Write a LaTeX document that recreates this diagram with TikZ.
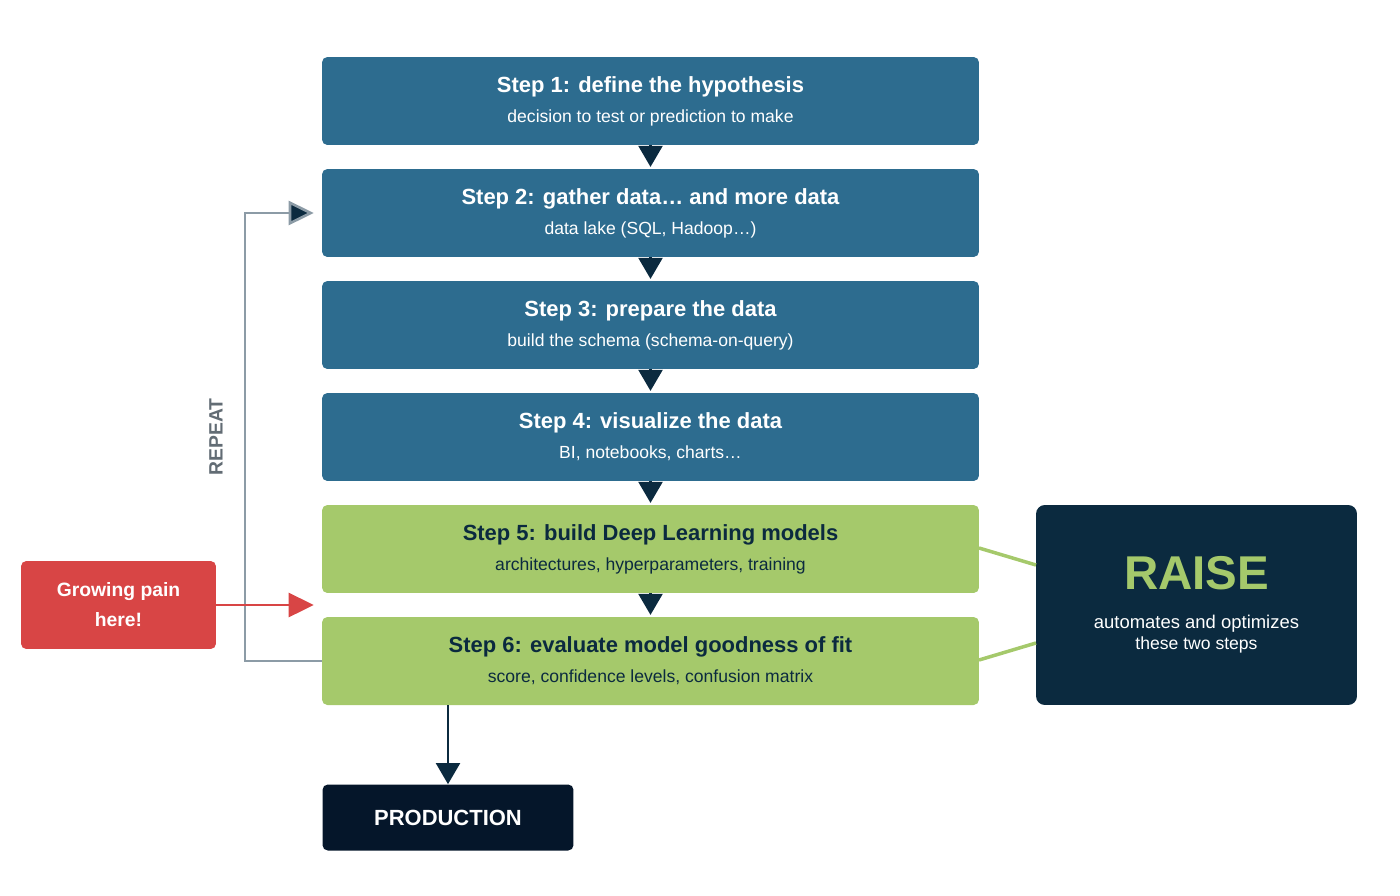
\documentclass[tikz,border=0pt]{standalone}
\usepackage{fontspec}
\setmainfont{Liberation Sans}
\usetikzlibrary{arrows.meta,positioning}
\definecolor{stepblue}{HTML}{2D6C8F}
\definecolor{stepgreen}{HTML}{A5C96B}
\definecolor{raisenavy}{HTML}{0B2A3F}
\definecolor{prodnavy}{HTML}{05162A}
\definecolor{painred}{HTML}{D84545}
\definecolor{repeatgray}{HTML}{8C9BA6}
\tikzset{
  stepbox/.style={rounded corners=3pt, minimum width=13.14cm, minimum height=1.76cm, align=center, inner sep=0pt},
  bluestep/.style={stepbox, fill=stepblue, text=white},
  greenstep/.style={stepbox, fill=stepgreen, text=raisenavy},
  flow/.style={draw=raisenavy, line width=1.2pt, -{Triangle[width=0.48cm,length=0.42cm]}},
}
\newcommand{\steptext}[2]{{\fontsize{12.5}{15}\selectfont\bfseries #1}\\[5pt]{\fontsize{10}{12}\selectfont #2}}
\begin{document}
\begin{tikzpicture}[x=0.02cm, y=-0.02cm]
  \useasboundingbox (0,0) rectangle (1400,896);
  \node[bluestep] (s1) at (650.5,101) {\steptext{Step 1: define the hypothesis}{decision to test or prediction to make}};
  \node[bluestep] (s2) at (650.5,213) {\steptext{Step 2: gather data\dots\ and more data}{data lake (SQL, Hadoop\dots)}};
  \node[bluestep] (s3) at (650.5,325) {\steptext{Step 3: prepare the data}{build the schema (schema-on-query)}};
  \node[bluestep] (s4) at (650.5,437) {\steptext{Step 4: visualize the data}{BI, notebooks, charts\dots}};
  \node[greenstep] (s5) at (650.5,549) {\steptext{Step 5: build Deep Learning models}{architectures, hyperparameters, training}};
  \node[greenstep] (s6) at (650.5,661) {\steptext{Step 6: evaluate model goodness of fit}{score, confidence levels, confusion matrix}};
  \node[rounded corners=3pt, fill=prodnavy, text=white, minimum width=5.02cm, minimum height=1.32cm,
    font=\fontsize{12.5}{15}\selectfont\bfseries] (prod) at (448,817.5) {PRODUCTION};
  \node[rounded corners=5pt, fill=raisenavy, text=white, minimum width=6.42cm, minimum height=4cm, align=center] (raise) at (1196.5,605)
    {{\fontsize{27}{32}\selectfont\bfseries\color{stepgreen}RAISE}\\[10pt]\fontsize{10.5}{16}\selectfont automates and optimizes\\these two steps};
  \node[rounded corners=3pt, fill=painred, text=white, minimum width=3.9cm, minimum height=1.76cm, align=center,
    font=\fontsize{11}{17}\selectfont\bfseries] (pain) at (118.5,605) {Growing pain\\here!};
  % flow between steps
  \foreach \a/\b in {s1/s2,s2/s3,s3/s4,s4/s5,s5/s6}
    \draw[flow, shorten >=1pt] (\a.south) -- (\b.north);
  \draw[flow] (s6.south -| prod.north) -- (prod.north);
  % repeat loop
  \coordinate (back) at (245,661);
  \draw[repeatgray, line width=1.5pt, -{Triangle[width=0.48cm,length=0.5cm,fill=raisenavy]}]
    (s6.west) -- (back) -- (245,213) -- ([xshift=-0.16cm]s2.west);
  \node[rotate=90, text=repeatgray!70!black, font=\fontsize{11}{13}\selectfont\bfseries] (rep) at (216,437) {REPEAT};
  \draw[painred, line width=1.5pt, -{Triangle[width=0.48cm,length=0.5cm]}] (pain.east) -- ([xshift=-0.16cm]s5.south west |- pain.east);
  % raise links
  \draw[stepgreen, line width=2pt] (979,548) -- (1036,565);
  \draw[stepgreen, line width=2pt] (979,660) -- (1036,643);
\end{tikzpicture}
\end{document}
